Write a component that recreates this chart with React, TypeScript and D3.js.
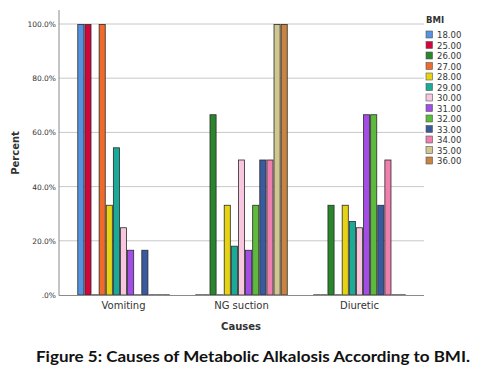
import React from 'react'
import * as d3 from 'd3'

const causes = ['Vomiting', 'NG suction', 'Diuretic']
const bmiLevels = ['18.00', '25.00', '26.00', '27.00', '28.00', '29.00', '30.00', '31.00', '32.00', '33.00', '34.00', '35.00', '36.00']
const bmiColors = ['#5593e0', '#d0063c', '#2a862c', '#f06a2c', '#e6d414', '#19ab98', '#f8c6df', '#a44ce6', '#5cbb3c', '#3a5a9e', '#f07eae', '#cfc690', '#c98442']

// percent per cause, one entry per BMI level
const vomiting = [100, 100, 0, 100, 33.3, 54.5, 25, 16.7, 0, 16.7, 0, 0, 0]
const ngSuction = [0, 0, 66.7, 0, 33.3, 18.2, 50, 16.7, 33.3, 50, 50, 100, 100]
const diuretic = [0, 0, 33.3, 0, 33.3, 27.3, 25, 66.7, 66.7, 33.3, 50, 0, 0]
const yTicks = [0, 20, 40, 60, 80, 100]

const W = 480
const H = 371
const FONT = '"DejaVu Sans", Verdana, sans-serif'

export default function App() {
  const ref = React.useRef<SVGSVGElement>(null)

  React.useEffect(() => {
    document.body.style.margin = '0'
    const svg = d3.select(ref.current!)
    svg.selectAll('*').remove()

    const values = [vomiting, ngSuction, diuretic]
    const x0 = d3.scaleBand<string>().domain(causes).range([59, 424]).paddingInner(0.216).paddingOuter(0.155)
    const x1 = d3.scaleBand<string>().domain(bmiLevels).range([0, x0.bandwidth()])
    const y = d3.scaleLinear().domain([0, 100]).range([295, 24])

    // grid
    svg.append('g').selectAll('line').data(yTicks.filter(t => t > 0)).join('line')
      .attr('x1', 59).attr('x2', 424)
      .attr('y1', d => y(d)).attr('y2', d => y(d))
      .attr('stroke', '#c8c8c8').attr('stroke-width', 1)

    // tick labels
    svg.append('g').selectAll('text').data(yTicks).join('text')
      .attr('x', 56).attr('y', d => y(d) + 3)
      .attr('text-anchor', 'end').attr('font-family', FONT).attr('font-size', 7.5).attr('fill', '#333')
      .text(d => (d === 0 ? '.0%' : d.toFixed(1) + '%'))

    // bars
    causes.forEach((c, ci) => {
      const g = svg.append('g').attr('transform', `translate(${x0(c)},0)`)
      const data = values[ci].map((v, i) => ({ key: bmiLevels[i], v, color: bmiColors[i] }))
      g.selectAll('rect').data(data.filter(d => d.v > 0)).join('rect')
        .attr('x', d => x1(d.key)! + 0.5).attr('y', d => y(d.v) + 0.5)
        .attr('width', x1.bandwidth() - 1).attr('height', d => y(0) - y(d.v) - 0.5)
        .attr('fill', d => d.color).attr('stroke', '#2a2a2a').attr('stroke-width', 0.8)
      g.selectAll('line').data(data.filter(d => d.v === 0)).join('line')
        .attr('x1', d => x1(d.key)!).attr('x2', d => x1(d.key)! + x1.bandwidth())
        .attr('y1', y(0)).attr('y2', y(0))
        .attr('stroke', '#222').attr('stroke-width', 1.2)
    })

    // axes lines
    svg.append('line').attr('x1', 59).attr('x2', 59).attr('y1', 10).attr('y2', 295.5).attr('stroke', '#8a8a8a')
    svg.append('line').attr('x1', 59).attr('x2', 424).attr('y1', 295.5).attr('y2', 295.5).attr('stroke', '#8a8a8a')

    // category labels
    svg.append('g').selectAll('text').data(causes).join('text')
      .attr('x', d => x0(d)! + x0.bandwidth() / 2).attr('y', 309)
      .attr('text-anchor', 'middle').attr('font-family', FONT).attr('font-size', 10).attr('fill', '#333')
      .text(d => d)

    svg.append('text').attr('x', 241).attr('y', 330).attr('text-anchor', 'middle')
      .attr('font-family', FONT).attr('font-size', 10).attr('font-weight', 700).attr('fill', '#333').text('Causes')
    svg.append('text').attr('transform', 'translate(19,153) rotate(-90)').attr('text-anchor', 'middle')
      .attr('font-family', FONT).attr('font-size', 10).attr('font-weight', 700).attr('fill', '#333').text('Percent')

    // legend
    const lg = svg.append('g').attr('transform', 'translate(426,0)')
    lg.append('text').attr('x', 9).attr('y', 23).attr('text-anchor', 'middle').attr('font-family', FONT)
      .attr('font-size', 8.5).attr('font-weight', 700).attr('fill', '#333').text('BMI')
    const rows = lg.selectAll('g').data(bmiLevels).join('g')
      .attr('transform', (_, i) => `translate(0,${31 + i * 10.5})`)
    rows.append('rect').attr('x', 0).attr('y', 0).attr('width', 6.5).attr('height', 7)
      .attr('fill', (_, i) => bmiColors[i]).attr('stroke', '#555').attr('stroke-width', 0.6)
    rows.append('text').attr('x', 11).attr('y', 7).attr('font-family', FONT).attr('font-size', 8.5)
      .attr('fill', '#333').text(d => d)

    // caption
    svg.append('text').attr('x', 253).attr('y', 362).attr('text-anchor', 'middle')
      .attr('font-family', 'Lato, "Open Sans", sans-serif').attr('font-size', 15.5).attr('font-weight', 700)
      .attr('fill', '#111').attr('textLength', 434).attr('lengthAdjust', 'spacingAndGlyphs')
      .text('Figure 5: Causes of Metabolic Alkalosis According to BMI.')
  }, [])

  return <svg ref={ref} width={W} height={H} style={{ display: 'block', background: '#fff' }} />
}
